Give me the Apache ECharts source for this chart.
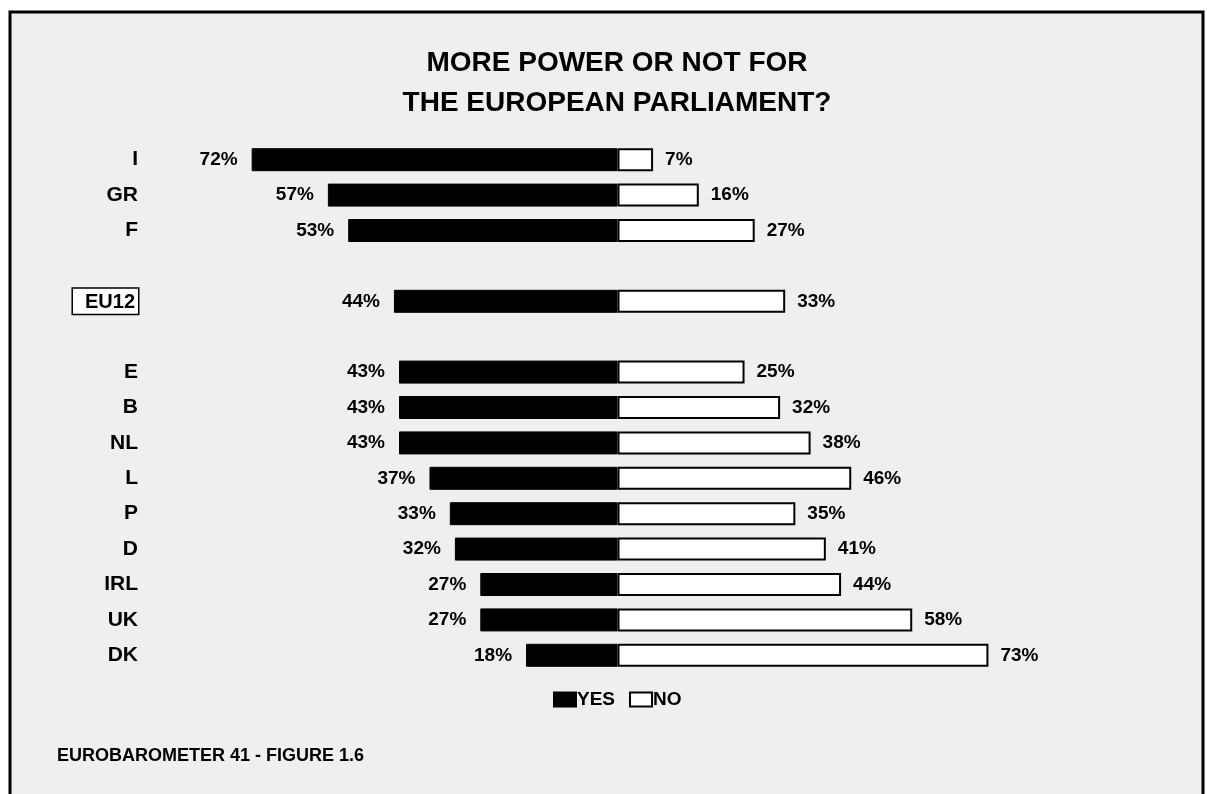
<!DOCTYPE html>
<html>
<head>
<meta charset="utf-8">
<script src="https://cdn.jsdelivr.net/npm/echarts@6/dist/echarts.min.js"></script>
<style>
  html, body { margin: 0; padding: 0; background: #ffffff; }
  #chart { width: 1207px; height: 794px; }
</style>
</head>
<body>
<div id="chart"></div>
<script>
// rows top to bottom; empty strings are spacer rows
const categories = ['I', 'GR', 'F', '', 'EU12', '', 'E', 'B', 'NL', 'L', 'P', 'D', 'IRL', 'UK', 'DK'];
const yesValues = [72, 57, 53, null, 44, null, 43, 43, 43, 37, 33, 32, 27, 27, 18];
const noValues  = [7, 16, 27, null, 33, null, 25, 32, 38, 46, 35, 41, 44, 58, 73];

const font = "'Liberation Sans', Arial, sans-serif";

const chart = echarts.init(document.getElementById('chart'));

chart.setOption({
    animation: false,
    backgroundColor: '#ffffff',
    graphic: [{
        type: 'rect',
        z: -10,
        shape: { x: 10, y: 12, width: 1193, height: 800 },
        style: { fill: '#efefef', stroke: '#000', lineWidth: 3 }
    }, {
        type: 'text',
        left: 57,
        top: 747,
        style: {
            text: 'EUROBAROMETER 41 - FIGURE 1.6',
            fill: '#000',
            font: 'bold 18px ' + font
        }
    }],
    title: {
        text: 'MORE POWER OR NOT FOR\nTHE EUROPEAN PARLIAMENT?',
        left: 612,
        top: 38,
        textAlign: 'center',
        textStyle: {
            fontFamily: font,
            fontSize: 28,
            fontWeight: 'bold',
            lineHeight: 40,
            color: '#000'
        }
    },
    legend: {
        bottom: 80,
        left: 548,
        itemWidth: 22,
        itemHeight: 14,
        itemGap: 14,
        textStyle: { fontFamily: font, fontSize: 19, fontWeight: 'bold', color: '#000', padding: [0, 0, 0, -4] },
        data: [
            { name: 'YES', icon: 'rect', itemStyle: { color: '#000', borderColor: '#000', borderWidth: 2 } },
            { name: 'NO', icon: 'rect', itemStyle: { color: '#fff', borderColor: '#000', borderWidth: 2 } }
        ]
    },
    grid: { left: 211, right: 183, top: 142, bottom: 121 },
    xAxis: {
        type: 'value',
        min: -80,
        max: 80,
        show: false
    },
    yAxis: {
        type: 'category',
        inverse: true,
        data: categories,
        axisLine: { show: false },
        axisTick: { show: false },
        splitLine: { show: false },
        axisLabel: {
            margin: 73,
            fontFamily: font,
            fontSize: 21,
            fontWeight: 'bold',
            color: '#000',
            formatter: function (v) {
                return v === 'EU12' ? '{box|' + v + '}' : v;
            },
            rich: {
                box: {
                    fontFamily: font,
                    fontSize: 20,
                    fontWeight: 'bold',
                    color: '#000',
                    borderColor: '#000',
                    borderWidth: 1.5,
                    padding: [4, 3, 1, 12],
                    backgroundColor: '#fff'
                }
            }
        }
    },
    series: [{
        name: 'YES',
        type: 'bar',
        stack: 'total',
        barWidth: 23,
        data: yesValues.map(v => v === null ? '-' : -v),
        itemStyle: { color: '#000', borderColor: '#000', borderWidth: 1 },
        label: {
            show: true,
            position: 'left',
            distance: 14,
            fontFamily: font,
            fontSize: 19,
            fontWeight: 'bold',
            color: '#000',
            formatter: p => Math.abs(p.value) + '%'
        }
    }, {
        name: 'NO',
        type: 'bar',
        stack: 'total',
        barWidth: 23,
        data: noValues.map(v => v === null ? '-' : v),
        itemStyle: { color: '#fff', borderColor: '#000', borderWidth: 2 },
        label: {
            show: true,
            position: 'right',
            distance: 12,
            fontFamily: font,
            fontSize: 19,
            fontWeight: 'bold',
            color: '#000',
            formatter: p => p.value + '%'
        }
    }]
});
</script>
</body>
</html>
